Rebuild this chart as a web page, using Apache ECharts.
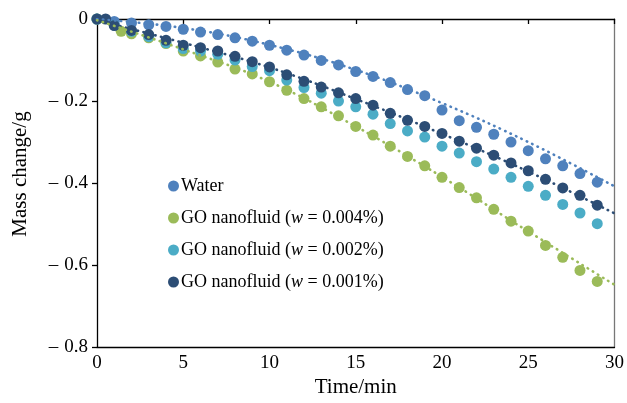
<!DOCTYPE html>
<html>
<head>
<meta charset="utf-8">
<script src="https://cdn.jsdelivr.net/npm/echarts@6/dist/echarts.min.js"></script>
<style>
html,body{margin:0;padding:0;background:#fff;}
#chart{width:627px;height:403px;}
</style>
</head>
<body>
<div id="chart"></div>
<script>
// ---- data ----
var timeMin = [0,1,2,3,4,5,6,7,8,9,10,11,12,13,14,15,16,17,18,19,20,21,22,23,24,25,26,27,28,29];
var waterMass = [0,-0.006,-0.010,-0.014,-0.018,-0.025,-0.032,-0.038,-0.046,-0.054,-0.064,-0.076,-0.088,-0.101,-0.112,-0.128,-0.140,-0.155,-0.172,-0.187,-0.222,-0.248,-0.264,-0.281,-0.300,-0.321,-0.341,-0.358,-0.377,-0.398];
var go004Mass = [0,null,-0.036,-0.046,-0.060,-0.078,-0.090,-0.105,-0.122,-0.134,-0.153,-0.174,-0.194,-0.214,-0.236,-0.262,-0.283,-0.310,-0.335,-0.358,-0.386,-0.411,-0.436,-0.464,-0.493,-0.517,-0.552,-0.581,-0.613,-0.640];
var go004Extra = [[1.4,-0.030]];
var go002Mass = [0,-0.015,-0.030,-0.043,-0.058,-0.072,-0.078,-0.086,-0.100,-0.116,-0.126,-0.149,-0.167,-0.181,-0.200,-0.214,-0.232,-0.255,-0.273,-0.288,-0.310,-0.327,-0.348,-0.366,-0.386,-0.408,-0.430,-0.452,-0.473,-0.499];
var go001Mass = [0,-0.016,-0.028,-0.038,-0.052,-0.064,-0.070,-0.078,-0.091,-0.104,-0.117,-0.136,-0.152,-0.166,-0.180,-0.194,-0.210,-0.230,-0.247,-0.262,-0.279,-0.298,-0.315,-0.332,-0.351,-0.370,-0.391,-0.412,-0.430,-0.454];
var go001Extra = [[0.5,0]];
// trend lines (read at every 5 min)
var trendTime = [0,5,10,15,20,25,30];
var waterTrend = [0,-0.022,-0.063,-0.124,-0.205,-0.300,-0.408];
var go001Trend = [-0.003,-0.058,-0.118,-0.195,-0.280,-0.372,-0.474];
var go004Trend = [-0.003,-0.074,-0.153,-0.262,-0.385,-0.518,-0.648];
var seriesNames = ['Water','GO nanofluid (w = 0.004%)','GO nanofluid (w = 0.002%)','GO nanofluid (w = 0.001%)'];

var colors = {water:'#4F81BD', g004:'#9BBB59', g002:'#4BACC6', g001:'#2C4D75'};
var FONT = '"Liberation Serif","Times New Roman",serif';

function pairs(xs, ys){
  var out=[];
  for(var i=0;i<xs.length;i++){ if(ys[i]!==null) out.push([xs[i],ys[i]]); }
  return out;
}
function scatter(name,color,data){
  return {name:name,type:'scatter',data:data,symbol:'circle',symbolSize:11,
    itemStyle:{color:color,opacity:1},xAxisIndex:0,yAxisIndex:0};
}
function trend(color,ys){
  return {type:'line',data:pairs(trendTime,ys),smooth:0.4,showSymbol:false,silent:true,
    lineStyle:{color:color,width:2.6,type:[0.5,5.5],cap:'round'},xAxisIndex:0,yAxisIndex:0,z:3};
}

var chart = echarts.init(document.getElementById('chart'),null,{renderer:'canvas'});
chart.setOption({
  animation:false,
  backgroundColor:'#fff',
  grid:{left:97,right:11,top:19,bottom:50},
  legend:{
    data:seriesNames.map(function(n){return {name:n,icon:'circle'};}),
    orient:'vertical',left:163,top:172,itemWidth:11,itemHeight:11,itemGap:14,
    textStyle:{fontFamily:FONT,fontSize:18,color:'#000',lineHeight:18,padding:[0,0,0,-3],
      rich:{i:{fontFamily:FONT,fontSize:18,fontStyle:'italic',color:'#000'}}},
    formatter:function(n){ return n.replace('(w =','({i|w} ='); }
  },
  xAxis:[{
    type:'value',position:'bottom',min:0,max:30,interval:5,
    axisLine:{show:true,onZero:false,lineStyle:{color:'#000',width:1.3}},
    axisTick:{show:false},splitLine:{show:false},
    axisLabel:{fontFamily:FONT,fontSize:19,color:'#000',margin:6},
    name:'Time/min',nameLocation:'middle',nameGap:22,
    nameTextStyle:{fontFamily:FONT,fontSize:21,color:'#000'}
  },{
    type:'value',position:'top',min:0,max:30,interval:5,
    axisLine:{show:true,onZero:false,lineStyle:{color:'#000',width:1.3}},
    axisTick:{show:true,inside:true,length:5,lineStyle:{color:'#000',width:1.3}},
    axisLabel:{show:false},splitLine:{show:false}
  }],
  yAxis:[{
    type:'value',position:'left',min:-0.8,max:0,interval:0.2,
    axisLine:{show:true,onZero:false,lineStyle:{color:'#000',width:1.3}},
    axisTick:{show:true,length:5,lineStyle:{color:'#000',width:1.3}},
    splitLine:{show:false},
    axisLabel:{fontFamily:FONT,fontSize:19,color:'#000',margin:9,
      rich:{d:{fontFamily:FONT,fontSize:19,color:'#000',padding:[0,6,0,0]},
            n:{fontFamily:FONT,fontSize:19,color:'#000'}},
      formatter:function(v){ return Math.abs(v)<1e-9 ? '{n|0}' : '{d|\u2013}{n|' + Math.abs(v).toFixed(1) + '}'; }}
  },{
    type:'value',position:'right',min:-0.8,max:0,interval:0.2,
    axisLine:{show:true,onZero:false,lineStyle:{color:'#777',width:1.3}},
    axisTick:{show:false},axisLabel:{show:false},splitLine:{show:false}
  }],
  graphic:[{
    type:'text',x:20,y:174,rotation:Math.PI/2,
    style:{text:'Mass change/g',font:'21px '+FONT,fill:'#000',textAlign:'center',textVerticalAlign:'middle'}
  }],
  series:[
    scatter(seriesNames[0],colors.water,pairs(timeMin,waterMass)),
    scatter(seriesNames[1],colors.g004,pairs(timeMin,go004Mass).concat(go004Extra)),
    scatter(seriesNames[2],colors.g002,pairs(timeMin,go002Mass)),
    scatter(seriesNames[3],colors.g001,pairs(timeMin,go001Mass).concat(go001Extra)),
    trend(colors.water,waterTrend),
    trend(colors.g001,go001Trend),
    trend(colors.g004,go004Trend)
  ]
});
</script>
</body>
</html>
